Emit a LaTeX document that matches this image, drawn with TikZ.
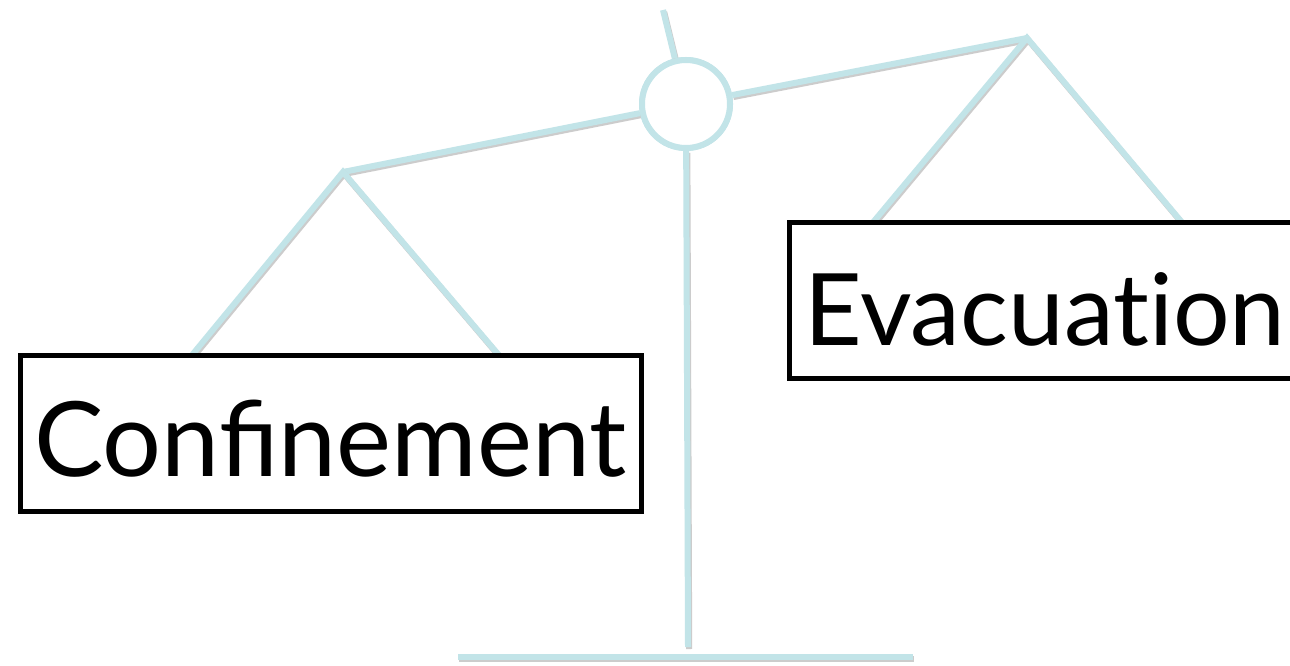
\documentclass[tikz,border=0pt]{standalone}
\usepackage{fontspec}
\setmainfont{Lato}
\newfontfamily\noligfont[Ligatures=NoCommon]{Lato}
\usetikzlibrary{calc}
\definecolor{scalecol}{HTML}{C2E4E8}
\begin{document}
\begin{tikzpicture}[x=1pt,y=-1pt,
  bar/.style={draw=scalecol,line width=6pt,line cap=butt,
    preaction={draw=black!20,line width=6pt,transform canvas={shift={(1.2pt,-2pt)}}}},
  panbox/.style={draw=black,line width=5pt,fill=white,inner sep=0pt,
    minimum height=156pt,text depth=0pt}]
\clip (0,0) rectangle (1290,666);
\fill[white] (0,0) rectangle (1290,666);
% named points
\node[circle,draw=scalecol,line width=6pt,minimum size=88pt,inner sep=0pt,fill=white] (pivot) at (686,104) {};
\coordinate (tip) at (663,10);
\coordinate (lapex) at (343,172);
\coordinate (rapex) at (1027,38);
\coordinate (postbot) at (688,647);
\coordinate (basel) at (458,657);
\coordinate (baser) at (913,657);
\coordinate (la) at (188,360);
\coordinate (lb) at (503,360);
\coordinate (ra) at (870,226);
\coordinate (rb) at (1185,226);
% scale frame
\draw[bar] (tip) -- (pivot);
\draw[bar] (pivot) -- (postbot);
\draw[bar] (basel) -- (baser);
\draw[bar,line join=miter] (pivot) -- (lapex);
\draw[bar,line join=miter] (pivot) -- (rapex);
\draw[bar,line join=miter] (la) -- (lapex) -- (lb);
\draw[bar,line join=miter] (ra) -- (rapex) -- (rb);
\node[circle,draw=scalecol,line width=6pt,minimum size=88pt,inner sep=0pt,fill=white] at (pivot) {};
% pans
\node[panbox,minimum width=621pt,text height=86pt,font=\fontsize{104}{110}\selectfont] (conf) at (330.5,433) {Confinement};
\node[panbox,minimum width=512pt,text height=90pt,font=\noligfont\fontsize{100}{110}\selectfont] (evac) at (1045,300) {Evacuation};
\end{tikzpicture}
\end{document}
